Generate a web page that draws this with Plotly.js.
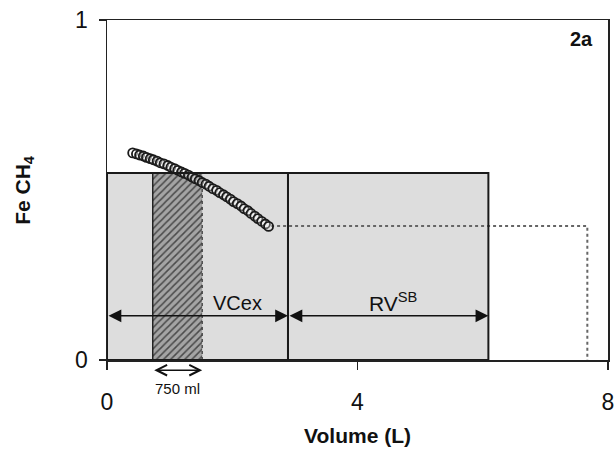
<!DOCTYPE html>
<html>
<head>
<meta charset="utf-8">
<script src="https://cdn.plot.ly/plotly-3.0.1.min.js"></script>
<style>html,body{margin:0;padding:0;background:#fff;}#chart{width:615px;height:450px;}</style>
</head>
<body>
<div id="chart"></div>
<script>
// ---- data ----
const volume = [0.41,0.47,0.52,0.58,0.63,0.69,0.74,0.80,0.85,0.91,0.97,1.02,1.08,1.13,1.19,1.24,1.30,1.36,1.41,1.47,
                1.52,1.58,1.63,1.69,1.75,1.80,1.86,1.91,1.97,2.02,2.08,2.14,2.19,2.25,2.30,2.36,2.41,2.47,2.53,2.58];
const feCH4 = [0.609,0.606,0.603,0.600,0.596,0.592,0.589,0.585,0.580,0.577,0.572,0.567,0.563,0.558,0.553,0.549,0.544,0.538,0.533,0.528,
               0.522,0.517,0.511,0.504,0.499,0.492,0.486,0.480,0.473,0.466,0.460,0.453,0.445,0.439,0.431,0.423,0.416,0.408,0.400,0.393];
const boxEdges = [0, 2.89, 6.09];      // start of VCex, VCex/RV boundary, end of RV
const boxTop = [0.55];
const hatchEdges = [0.73, 1.52];      // 750 ml sample
const plateauX = [2.62, 7.67];        // dotted extrapolation
const plateauY = [0.394];
const arrowLevel = [0.13];
const sampleArrowLevel = [-0.03];
const labels = ["VCex", "RV<sup>SB</sup>", "750 ml", "2a"];
const xTicks = [0, 4, 8];
const yTicks = [0, 1];

const FONT = "Liberation Sans, Arial, Helvetica, sans-serif";

const traces = [
  { // hatched 750 ml region
    x: [hatchEdges[0], hatchEdges[1], hatchEdges[1], hatchEdges[0], hatchEdges[0]],
    y: [0, 0, boxTop[0], boxTop[0], 0],
    mode: 'lines', fill: 'toself', line: {width: 0},
    fillcolor: '#8a8a8a',
    fillpattern: {shape: '/', fgcolor: '#4a4a4a', bgcolor: '#a4a4a4', size: 5, solidity: 0.3},
    hoverinfo: 'skip', showlegend: false
  },
  { // solid left edge of hatched region
    x: [hatchEdges[0], hatchEdges[0]], y: [0, boxTop[0]],
    mode: 'lines', line: {color: '#222', width: 1.5}, showlegend: false, hoverinfo: 'skip'
  },
  { // dotted right edge of hatched region
    x: [hatchEdges[1], hatchEdges[1]], y: [0, boxTop[0]],
    mode: 'lines', line: {color: '#333', width: 1.2, dash: 'dot'}, showlegend: false, hoverinfo: 'skip'
  },
  { // dotted plateau line
    x: [plateauX[0], plateauX[1], plateauX[1]], y: [plateauY[0], plateauY[0], 0],
    mode: 'lines', line: {color: '#666', width: 2, dash: 'dot'}, showlegend: false, hoverinfo: 'skip'
  },
  { // measured points
    x: volume, y: feCH4, mode: 'markers',
    marker: {symbol: 'circle', size: 9, color: 'rgba(255,255,255,0.3)', line: {color: '#1a1a1a', width: 1.8}},
    showlegend: false, cliponaxis: false
  }
];

const shapes = [
  {type: 'rect', xref: 'x', yref: 'y', x0: boxEdges[0], x1: boxEdges[2], y0: 0, y1: boxTop[0],
   fillcolor: '#dddddd', line: {width: 0}, layer: 'below'},
  {type: 'rect', xref: 'x', yref: 'y', x0: boxEdges[0], x1: boxEdges[1], y0: 0, y1: boxTop[0],
   fillcolor: 'rgba(0,0,0,0)', line: {color: '#1a1a1a', width: 2}, layer: 'above'},
  {type: 'rect', xref: 'x', yref: 'y', x0: boxEdges[1], x1: boxEdges[2], y0: 0, y1: boxTop[0],
   fillcolor: 'rgba(0,0,0,0)', line: {color: '#1a1a1a', width: 2}, layer: 'above'}
];

function dblArrow(x0, x1, y, yref, head, size) {
  return {xref: 'x', yref: yref, axref: 'x', ayref: (yref === 'y' ? 'y' : 'pixel'),
          x: x1, y: y, ax: x0, ay: (yref === 'y' ? y : 0),
          text: '', showarrow: true, arrowside: 'end+start', arrowhead: head,
          arrowsize: size, arrowwidth: 1.6, arrowcolor: '#111', standoff: 0, startstandoff: 0};
}

const annotations = [
  dblArrow(boxEdges[0], boxEdges[1], arrowLevel[0], 'y', 2, 1.6),
  dblArrow(boxEdges[1], boxEdges[2], arrowLevel[0], 'y', 2, 1.6),
  // below the axis: paper coordinates (y axis spans paper 0..1 exactly)
  dblArrow(hatchEdges[0], hatchEdges[1], sampleArrowLevel[0], 'paper', 5, 1.3),
  {xref: 'x', yref: 'y', x: (boxEdges[0] + boxEdges[1]) * 0.72, y: 0.168, text: labels[0], showarrow: false,
   font: {family: FONT, size: 20, color: '#111'}},
  {xref: 'x', yref: 'y', x: (boxEdges[1] + boxEdges[2]) / 2 + 0.08, y: 0.17, text: labels[1], showarrow: false,
   font: {family: FONT, size: 21, color: '#111'}},
  {xref: 'x', yref: 'paper', x: (hatchEdges[0] + hatchEdges[1]) / 2, y: -0.083, yanchor: 'middle', text: labels[2], showarrow: false,
   font: {family: FONT, size: 15, color: '#111'}},
  {xref: 'paper', yref: 'paper', x: 0.975, y: 0.944, xanchor: 'right', yanchor: 'middle', text: '<b>' + labels[3] + '</b>', showarrow: false,
   font: {family: FONT, size: 20, color: '#111'}},
  {xref: 'paper', yref: 'paper', x: -0.166, y: 0.5, xanchor: 'center', yanchor: 'middle', textangle: -90,
   text: '<b>Fe CH<sub>4</sub></b>', showarrow: false, font: {family: FONT, size: 21, color: '#111'}}
];

const layout = {
  width: 615, height: 450,
  margin: {l: 107, r: 7, t: 20, b: 90},
  paper_bgcolor: '#fff', plot_bgcolor: '#fff',
  font: {family: FONT, color: '#111'},
  showlegend: false,
  xaxis: {
    range: [0, 8], tickvals: xTicks, ticktext: xTicks.map(String),
    ticks: 'outside', ticklen: 8, tickwidth: 1.5, tickcolor: '#222',
    showline: true, linecolor: '#222', linewidth: 1.5, mirror: true,
    showgrid: false, zeroline: false,
    tickfont: {family: FONT, size: 23, color: '#111'},
    ticklabelstandoff: 13,
    title: {text: '<b>Volume (L)</b>', font: {family: FONT, size: 21, color: '#111'}, standoff: 14}
  },
  yaxis: {
    range: [0, 1], tickvals: yTicks, ticktext: yTicks.map(String),
    ticks: 'outside', ticklen: 7, tickwidth: 1.5, tickcolor: '#222',
    showline: true, linecolor: '#222', linewidth: 1.5, mirror: true,
    showgrid: false, zeroline: false,
    tickfont: {family: FONT, size: 23, color: '#111'},
    ticklabelstandoff: 6
  },
  shapes: shapes,
  annotations: annotations
};

Plotly.newPlot('chart', traces, layout, {staticPlot: true, displayModeBar: false});
</script>
</body>
</html>
